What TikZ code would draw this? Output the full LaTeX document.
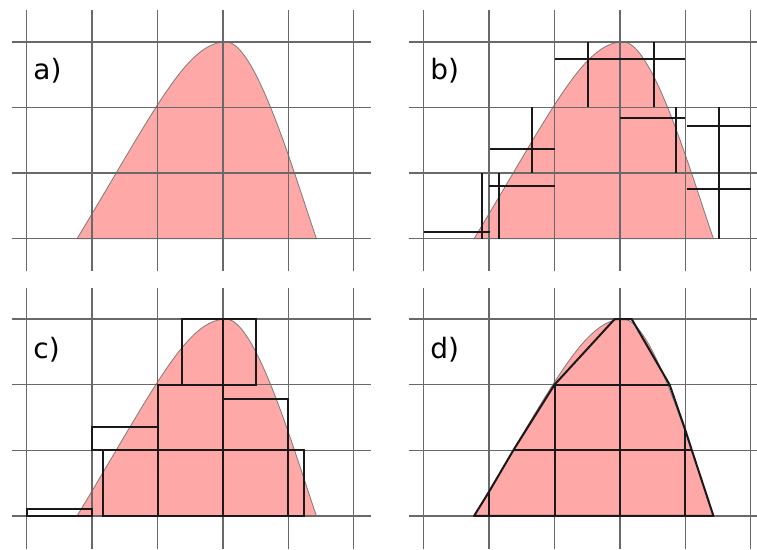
\documentclass[tikz,border=0pt]{standalone}
\usepackage{fontspec}
\setmainfont{DejaVu Sans}
\definecolor{bumpfill}{RGB}{255,168,168}
\definecolor{gridcol}{RGB}{105,105,105}
\definecolor{inkcol}{RGB}{25,25,25}
\definecolor{edgecol}{RGB}{130,120,120}
\newcommand\bumpcurve{(0.77,0) .. controls (1.97,1.98) and (2.45,3) .. (3.05,3) .. controls (3.5,3) and (4.08,1.015) .. (4.43,0) -- cycle}
\newcommand\panelgrid{%
  \foreach \i in {0,...,5} {\draw[gridline] (\i,-0.5) -- (\i,3.48);}
  \foreach \j in {0,...,3} {\draw[gridline] (-0.23,\j) -- (5.26,\j);}
}
\tikzset{
  gridline/.style={draw=gridcol, line width=1.3pt},
  inkline/.style={draw=inkcol, line width=2pt},
  bump/.style={fill=bumpfill, draw=edgecol, line width=0.8pt},
  panellabel/.style={anchor=base west, inner sep=0pt, font=\fontsize{28}{30}\selectfont},
  panel/.style={x=65.4pt, y=65.6pt},
}
\begin{document}
\begin{tikzpicture}
\clip (0,0) rectangle (757pt,549pt);
\fill[white] (0,0) rectangle (757pt,549pt);

% panel a
\begin{scope}[shift={(26.7pt,310.3pt)}, panel]
  \path[bump] \bumpcurve;
  \panelgrid
  \node[panellabel] (la) at (0.1,2.42) {a)};
\end{scope}

% panel b
\begin{scope}[shift={(423.7pt,310.3pt)}, panel]
  \path[bump] \bumpcurve;
  \panelgrid
  \node[panellabel] (lb) at (0.1,2.42) {b)};
  \draw[inkline] (0,0.107) -- (1.02,0.107);
  \draw[inkline] (0.885,0) -- (0.885,1);
  \draw[inkline] (1,0.81) -- (2,0.81);
  \draw[inkline] (1.15,0) -- (1.15,1);
  \draw[inkline] (1.02,1.37) -- (2,1.37);
  \draw[inkline] (1.66,1) -- (1.66,2);
  \draw[inkline] (2,2.735) -- (4,2.735);
  \draw[inkline] (2.51,2) -- (2.51,3);
  \draw[inkline] (3.52,2) -- (3.52,3);
  \draw[inkline] (3,1.84) -- (4,1.84);
  \draw[inkline] (3.86,1) -- (3.86,2);
  \draw[inkline] (4.02,1.72) -- (5,1.72);
  \draw[inkline] (4.52,0) -- (4.52,2);
  \draw[inkline] (4.02,0.75) -- (5,0.75);
\end{scope}

% panel c
\begin{scope}[shift={(26.7pt,33.1pt)}, panel]
  \path[bump] \bumpcurve;
  \panelgrid
  \node[panellabel] (lc) at (0.1,2.4) {c)};
  \draw[inkline] (0,0) rectangle (1,0.107);
  \draw[inkline] (1.17,0) rectangle (2,1);
  \draw[inkline] (1,1) rectangle (2,1.35);
  \draw[inkline] (2,0) rectangle (3,1);
  \draw[inkline] (2,1) rectangle (3,2);
  \draw[inkline] (3,0) rectangle (4,1);
  \draw[inkline] (3,1) rectangle (4,1.78);
  \draw[inkline] (4,0) rectangle (4.24,1);
  \draw[inkline] (2.37,2) rectangle (3,3);
  \draw[inkline] (3,2) rectangle (3.51,3);
\end{scope}

% panel d
\begin{scope}[shift={(423.7pt,33.1pt)}, panel]
  \path[bump] \bumpcurve;
  \panelgrid
  \node[panellabel] (ld) at (0.1,2.4) {d)};
  \draw[inkline, line join=round] (0.77,0) -- (1,0.37) -- (1.37,1) -- (2,2) -- (2.92,3) -- (3.18,3) -- (3.76,2) -- (4,1.31) -- (4.1,1) -- (4.43,0) -- cycle;
  \draw[inkline] (1,0) -- (1,0.37);
  \draw[inkline] (2,0) -- (2,2);
  \draw[inkline] (3,0) -- (3,3);
  \draw[inkline] (4,0) -- (4,1.31);
  \draw[inkline] (1.37,1) -- (4.1,1);
  \draw[inkline] (2,2) -- (3.76,2);
\end{scope}
\end{tikzpicture}
\end{document}
